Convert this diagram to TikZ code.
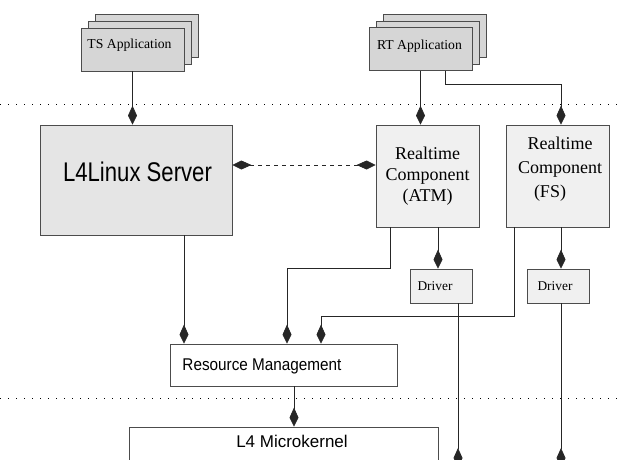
\documentclass[tikz,border=0pt]{standalone}
\usepackage{fontspec}
\setmainfont{Liberation Serif}
\setsansfont{Liberation Sans}
\usetikzlibrary{arrows.meta}

\begin{document}
\begin{tikzpicture}[x=1pt,y=-1pt]
\tikzstyle{caixa}=[draw=black!70, line width=0.8pt, inner sep=0pt]
\tikzstyle{pilha}=[caixa, fill=black!16, minimum width=103pt, minimum height=43pt]
\tikzstyle{real}=[caixa, fill=black!6, minimum width=103pt, minimum height=102pt]
\tikzstyle{driver}=[caixa, fill=black!6, minimum width=62pt, minimum height=34pt, font=\fontsize{13.4}{15}\selectfont]
\tikzstyle{seta}=[draw=black!85, line width=0.8pt, -{Kite[length=19pt,width=9pt,inset=10pt]}]
\tikzstyle{pontilhado}=[line width=1pt, dash pattern=on 1.2pt off 6.8pt]
\clip (0,0) rectangle (621,459);

% aplicacoes
\node[pilha] (tsc) at (146.5,35.5) {};
\node[pilha] (tsb) at (139.5,42.5) {};
\node[pilha] (ts) at (132.5,49.5) {};
\node[font=\fontsize{13.7}{16}\selectfont] (tstxt) at (129.5,45) {TS Application};
\node[pilha] (rtc) at (434.5,35.5) {};
\node[pilha] (rtb) at (427.5,42.5) {};
\node[pilha] (rt) at (420.5,49) {};
\node[font=\fontsize{13.7}{16}\selectfont] (rttxt) at (419.5,46) {RT Application};

\draw[pontilhado] (0,104) -- (621,104);

% servidores
\node[caixa, fill=black!10, minimum width=192pt, minimum height=110pt] (linux) at (136,180) {};
\node[font=\sffamily\fontsize{27}{32}\selectfont, xscale=0.82] (linuxtxt) at (137.5,172) {L4Linux Server};
\node[real, font=\fontsize{18}{21}\selectfont, align=center] (atm) at (427.5,176) {Realtime\\Component\\(ATM)};
\node[real] (fs) at (558,176) {};
\node[font=\fontsize{18}{24}\selectfont, align=center] (fstxt) at (560,169) {Realtime\\Component\\(FS)\hspace*{20pt}};
\node[driver] (drv1) at (441,286) {Driver\hspace*{12pt}};
\node[driver] (drv2) at (558,286) {Driver\hspace*{6pt}};

\node[caixa, fill=white, minimum width=227pt, minimum height=42pt] (rm) at (283.5,365) {};
\node[font=\sffamily\fontsize{17}{20}\selectfont, xscale=0.9] (rmtxt) at (262,366) {Resource Management};

\draw[pontilhado] (0,398) -- (621,398);

\node[caixa, fill=white, minimum width=309pt, minimum height=60pt] (micro) at (283.5,457) {};
\node[font=\sffamily\fontsize{17}{20}\selectfont] (microtxt) at (292,441) {L4 Microkernel};
\coordinate (fim1) at (458,467);
\coordinate (fim2) at (561,467);

% setas
\draw[seta] (ts.south) -- (ts.south |- linux.north);
\draw[seta] (rt.south) -- (rt.south |- atm.north);
\draw[seta] ([xshift=24.5pt]rt.south) -- ++(0,13) -| ([xshift=3pt]fs.north);
\draw[seta, {Kite[length=19pt,width=9pt,inset=10pt]}-{Kite[length=19pt,width=9pt,inset=10pt]}, dash pattern=on 4pt off 4pt]
  ([yshift=15pt]linux.east) -- ([yshift=15pt]linux.east -| atm.west);
\draw[seta] ([xshift=48pt]linux.south) -- ([xshift=48pt]linux.south |- rm.north);
\draw[seta] ([xshift=-37.5pt]atm.south) -- ++(0,41) -| ([xshift=3.5pt]rm.north);
\draw[seta] ([xshift=-44pt]fs.south) -- ++(0,89) -| ([xshift=37.5pt]rm.north);
\draw[seta] ([xshift=10.5pt]atm.south) -- ([xshift=10.5pt]atm.south |- drv1.north);
\draw[seta] ([xshift=3pt]fs.south) -- ([xshift=3pt]fs.south |- drv2.north);
\draw[seta] ([xshift=10.5pt]rm.south) -- ([xshift=10.5pt]rm.south |- micro.north);
\draw[seta] (drv1.south -| fim1) -- (fim1);
\draw[seta] (drv2.south -| fim2) -- (fim2);
\end{tikzpicture}
\end{document}
